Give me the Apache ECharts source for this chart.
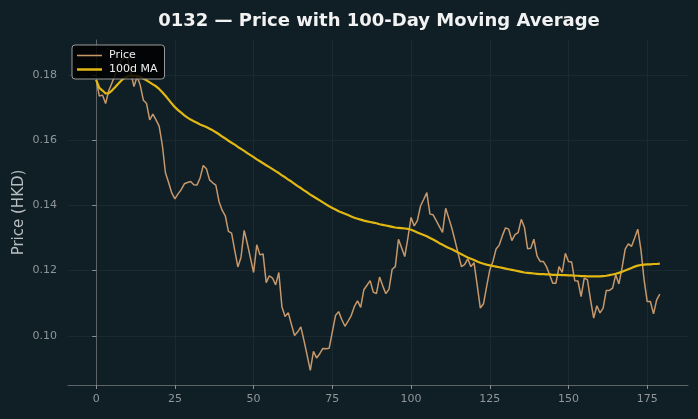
<!DOCTYPE html>
<html>
<head>
<meta charset="utf-8">
<script src="https://cdn.jsdelivr.net/npm/echarts@6/dist/echarts.min.js"></script>
<style>
  html, body { margin: 0; padding: 0; background: #0f1f25; }
  #chart { width: 698px; height: 419px; }
</style>
</head>
<body>
<div id="chart"></div>
<script>
// daily closes (HKD), index 0..179
const price = [
  0.1785, 0.1735, 0.1738, 0.1712, 0.1752, 0.1775, 0.1800, 0.1825, 0.1845, 0.1856,
  0.1850, 0.1808, 0.1764, 0.1795, 0.1768, 0.1722, 0.1712, 0.1662, 0.1680, 0.1662,
  0.1643, 0.1585, 0.1500, 0.1470, 0.1438, 0.1420, 0.1435, 0.1448, 0.1466, 0.1470,
  0.1473, 0.1463, 0.1462, 0.1484, 0.1522, 0.1512, 0.1478, 0.1469, 0.1462, 0.1412,
  0.1385, 0.1368, 0.1320, 0.1315, 0.1262, 0.1211, 0.1241, 0.1323, 0.1283, 0.1238,
  0.1194, 0.1279, 0.1248, 0.1251, 0.1163, 0.1184, 0.1177, 0.1156, 0.1194, 0.1088,
  0.1059, 0.1071, 0.1035, 0.1001, 0.1012, 0.1027, 0.0985, 0.0940, 0.0894, 0.0952,
  0.0932, 0.0945, 0.0961, 0.0960, 0.0962, 0.1012, 0.1062, 0.1074, 0.1050, 0.1029,
  0.1045, 0.1062, 0.1090, 0.1107, 0.1087, 0.1141, 0.1155, 0.1169, 0.1134, 0.1129,
  0.1180, 0.1153, 0.1129, 0.1143, 0.1204, 0.1212, 0.1296, 0.1270, 0.1243, 0.1300,
  0.1363, 0.1337, 0.1353, 0.1398, 0.1418, 0.1439, 0.1373, 0.1371, 0.1353, 0.1335,
  0.1317, 0.1391, 0.1360, 0.1328, 0.1290, 0.1250, 0.1212, 0.1218, 0.1236, 0.1212,
  0.1224, 0.1155, 0.1085, 0.1098, 0.1151, 0.1202, 0.1228, 0.1266, 0.1278, 0.1307,
  0.1331, 0.1327, 0.1292, 0.1310, 0.1316, 0.1357, 0.1333, 0.1267, 0.1268, 0.1296,
  0.1245, 0.1228, 0.1228, 0.1212, 0.1187, 0.1161, 0.1161, 0.1212, 0.1194, 0.1253,
  0.1228, 0.1226, 0.1169, 0.1168, 0.1120, 0.1177, 0.1172, 0.1110, 0.1054, 0.1092,
  0.1070, 0.1085, 0.1139, 0.1139, 0.1146, 0.1187, 0.1159, 0.1208, 0.1266, 0.1282,
  0.1274, 0.1300, 0.1327, 0.1264, 0.1172, 0.1105, 0.1105, 0.1067, 0.1110, 0.1128
];

// 100-day moving average
const ma100 = [
  0.1785, 0.1760, 0.1752, 0.1743, 0.1744, 0.1752, 0.1762, 0.1773, 0.1783, 0.1791,
  0.1796, 0.1798, 0.1797, 0.1797, 0.1794, 0.1789, 0.1783, 0.1777, 0.1771, 0.1765,
  0.1757, 0.1747, 0.1736, 0.1724, 0.1712, 0.1701, 0.1692, 0.1684, 0.1676, 0.1669,
  0.1663, 0.1658, 0.1653, 0.1648, 0.1644, 0.1640, 0.1635, 0.1630, 0.1624, 0.1618,
  0.1611, 0.1605, 0.1598, 0.1592, 0.1586, 0.1579, 0.1573, 0.1567, 0.1560, 0.1554,
  0.1548, 0.1541, 0.1535, 0.1529, 0.1523, 0.1517, 0.1511, 0.1505, 0.1499, 0.1492,
  0.1486, 0.1479, 0.1473, 0.1466, 0.1459, 0.1453, 0.1446, 0.1440, 0.1433, 0.1427,
  0.1421, 0.1415, 0.1409, 0.1403, 0.1397, 0.1392, 0.1387, 0.1382, 0.1378, 0.1374,
  0.1370, 0.1366, 0.1362, 0.1359, 0.1356, 0.1353, 0.1351, 0.1349, 0.1347, 0.1345,
  0.1342, 0.1340, 0.1338, 0.1336, 0.1334, 0.1332, 0.1331, 0.1330, 0.1329, 0.1328,
  0.1325, 0.1321, 0.1317, 0.1313, 0.1309, 0.1305, 0.1300, 0.1295, 0.1290, 0.1284,
  0.1279, 0.1274, 0.1269, 0.1265, 0.1260, 0.1255, 0.1250, 0.1245, 0.1240, 0.1236,
  0.1232, 0.1228, 0.1224, 0.1221, 0.1218, 0.1216, 0.1214, 0.1212, 0.1210, 0.1208,
  0.1206, 0.1204, 0.1202, 0.1200, 0.1198, 0.1196, 0.1194, 0.1193, 0.1192, 0.1191,
  0.1190, 0.1189, 0.1189, 0.1188, 0.1188, 0.1187, 0.1187, 0.1187, 0.1186, 0.1186,
  0.1185, 0.1185, 0.1184, 0.1184, 0.1183, 0.1183, 0.1182, 0.1182, 0.1182, 0.1182,
  0.1182, 0.1183, 0.1184, 0.1186, 0.1188, 0.1190, 0.1193, 0.1196, 0.1200, 0.1204,
  0.1208, 0.1212, 0.1215, 0.1217, 0.1218, 0.1219, 0.1219, 0.1220, 0.1220, 0.1221
];

const xTicks = [0, 25, 50, 75, 100, 125, 150, 175];
const yTicks = [0.10, 0.12, 0.14, 0.16, 0.18];

const PRICE_COLOR = '#c6986c';
const MA_COLOR = '#e2b712';

const chart = echarts.init(document.getElementById('chart'));

const toPairs = arr => arr.map((v, i) => [i, v]);
const gridLine = { show: true, lineStyle: { color: '#1d2d34', width: 0.8 } };
const tickStyle = { show: true, length: 4, lineStyle: { color: '#8a8f92' } };

chart.setOption({
  backgroundColor: '#0f1f25',
  textStyle: { fontFamily: 'DejaVu Sans' },
  title: {
    text: '0132 — Price with 100-Day Moving Average',
    left: 374,
    textAlign: 'center',
    top: 7,
    textStyle: { color: '#f2f2f2', fontSize: 18, fontWeight: 'bold', fontFamily: 'DejaVu Sans' }
  },
  legend: {
    left: 72,
    top: 45,
    orient: 'vertical',
    backgroundColor: 'rgba(0,0,0,0.85)',
    borderColor: '#9a9a9a',
    borderWidth: 1,
    borderRadius: 3,
    padding: [5, 7, 4, 5],
    itemGap: 3,
    itemWidth: 25,
    itemHeight: 12,
    textStyle: { color: '#eeeeee', fontSize: 11, fontFamily: 'DejaVu Sans', padding: [0, 0, 0, 2] },
    data: [
      { name: 'Price', icon: 'path://M0 5 H24 V6.5 H0 Z' },
      { name: '100d MA', icon: 'path://M0 4.8 H24 V7.2 H0 Z' }
    ]
  },
  grid: { left: 68, right: 10, top: 40, bottom: 34 },
  xAxis: {
    type: 'value',
    min: -8.95,
    max: 187.95,
    axisLine: { show: true, lineStyle: { color: '#5c6468' } },
    axisTick: Object.assign({ customValues: xTicks }, tickStyle),
    axisLabel: { customValues: xTicks, color: '#8f969a', fontSize: 11, margin: 9, fontFamily: 'DejaVu Sans' },
    splitLine: gridLine
  },
  yAxis: {
    type: 'value',
    min: 0.0849,
    max: 0.1907,
    name: 'Price (HKD)',
    nameLocation: 'middle',
    nameGap: 41,
    nameMoveOverlap: false,
    nameTextStyle: { color: '#b9bec1', fontSize: 15, fontFamily: 'DejaVu Sans' },
    axisLine: { show: true, lineStyle: { color: '#5c6468' } },
    axisTick: Object.assign({ customValues: yTicks }, tickStyle),
    axisLabel: {
      customValues: yTicks, color: '#8f969a', fontSize: 11, margin: 11, fontFamily: 'DejaVu Sans',
      formatter: v => v.toFixed(2)
    },
    splitLine: gridLine
  },
  series: [
    {
      name: 'Price',
      type: 'line',
      data: toPairs(price),
      symbol: 'none',
      lineStyle: { color: PRICE_COLOR, width: 1.5 },
      itemStyle: { color: PRICE_COLOR },
      z: 2
    },
    {
      name: '100d MA',
      type: 'line',
      data: toPairs(ma100),
      symbol: 'none',
      lineStyle: { color: MA_COLOR, width: 2.2 },
      itemStyle: { color: MA_COLOR },
      z: 3
    }
  ]
});
</script>
</body>
</html>
